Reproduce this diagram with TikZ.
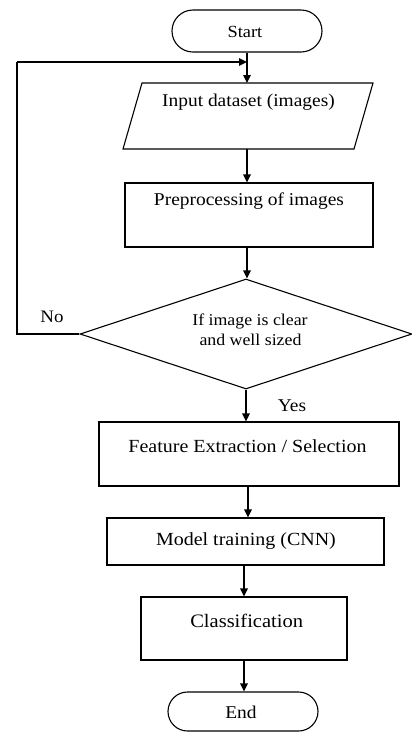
\documentclass[tikz,border=0pt]{standalone}
\usepackage{fontspec}
\setmainfont{Liberation Serif}[FakeStretch=1.08]
\usetikzlibrary{arrows.meta,shapes.geometric,shapes.misc}
\tikzset{
  ln/.style={line width=1.1pt, draw=black},
  arr/.style={ln, -{Triangle[length=8pt,width=7.5pt]}},
  boxnode/.style={ln, rectangle, inner sep=0pt},
  termnode/.style={ln, rounded rectangle, inner sep=0pt},
  txt/.style={inner sep=0pt, anchor=base, font=\fontsize{18}{21}\selectfont},
}
\begin{document}
\begin{tikzpicture}[x=1pt,y=-1pt]
\useasboundingbox (0,0) rectangle (412,732);
% terminals
\node[termnode, minimum width=150pt, minimum height=42pt] (start) at (247,31) {};
\node[txt, font=\fontsize{17}{20}\selectfont] (starttxt) at (245,37) {Start};
% input parallelogram
\draw[ln] (142,83) -- (373,83) -- (354,149) -- (123,149) -- cycle;
\coordinate (intop) at (247,83);
\coordinate (inbot) at (247,149);
\node[txt] (intxt) at (248.5,106) {Input dataset (images)};
% preprocessing
\node[boxnode, minimum width=248pt, minimum height=64pt] (prep) at (249,215) {};
\node[txt] (preptxt) at (249,205) {Preprocessing of images};
% decision
\node[ln, diamond, inner sep=0pt, minimum width=332pt, minimum height=110pt] (dec) at (246,334) {};
\node[txt, font=\fontsize{16.5}{19}\selectfont] (dectxt1) at (250,325) {If image is clear};
\node[txt, font=\fontsize{16.5}{19}\selectfont] (dectxt2) at (250.5,345) {and well sized};
\node[txt, font=\fontsize{17.5}{20}\selectfont] (no) at (52,322) {No};
\node[txt] (yes) at (292,411) {Yes};
% feature
\node[boxnode, minimum width=300pt, minimum height=64pt] (feat) at (249,454) {};
\node[txt, font=\fontsize{18.5}{21}\selectfont] (feattxt) at (247.5,452) {Feature Extraction / Selection};
% model
\node[boxnode, minimum width=277pt, minimum height=47pt] (model) at (245.5,541.5) {};
\node[txt, font=\fontsize{18.5}{21}\selectfont] (modeltxt) at (246,545) {Model training (CNN)};
% classification
\node[boxnode, minimum width=206pt, minimum height=63pt] (cls) at (244,628.5) {};
\node[txt, font=\fontsize{19}{22}\selectfont] (clstxt) at (246.7,627) {Classification};
% end
\node[termnode, minimum width=150pt, minimum height=39pt] (end) at (243,711.5) {};
\node[txt] (endtxt) at (241,718) {End};
% feedback corner
\coordinate (fbA) at (17,334);
\coordinate (fbB) at (17,62);
\coordinate (fbC) at (247,62);
% connectors
\draw[arr] (start.south) -- (intop);
\draw[arr] (inbot) -- (inbot |- prep.north);
\draw[arr] (inbot |- prep.south) -- (inbot |- dec.north);
\draw[arr] (dec.south) -- (dec.south |- feat.north);
\draw[arr] ([xshift=-1pt]feat.south) -- ([xshift=-1pt]feat.south |- model.north);
\draw[arr] ([xshift=-1.5pt]model.south) -- ([xshift=-1.5pt]model.south |- cls.north);
\draw[arr] (cls.south) -- (cls.south |- end.north);
\draw[ln] (dec.west) -- (fbA) -- (fbB);
\draw[arr] (fbB) -- (fbC);
\end{tikzpicture}
\end{document}
